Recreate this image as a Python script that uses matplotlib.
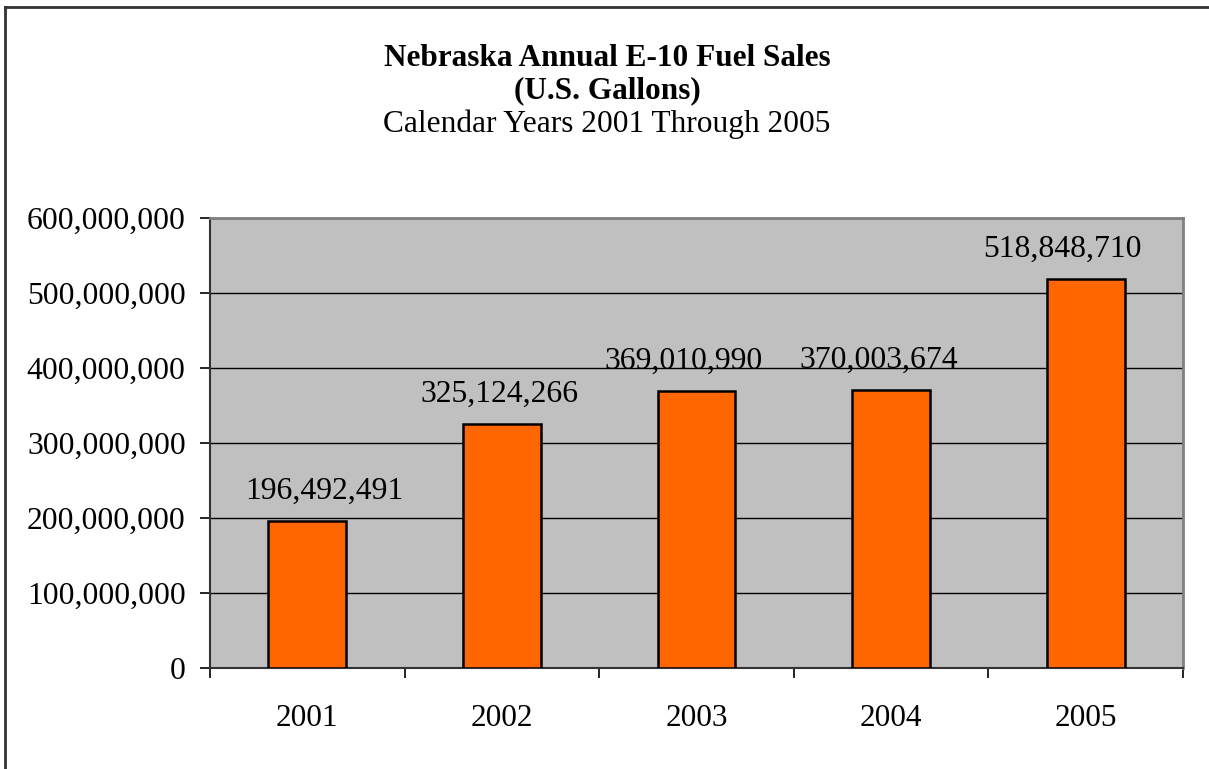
import matplotlib.pyplot as plt
from matplotlib.ticker import FuncFormatter, MultipleLocator
from matplotlib.lines import Line2D

# data
years = ['2001', '2002', '2003', '2004', '2005']
gallons = [196492491, 325124266, 369010990, 370003674, 518848710]

# value labels are nudged sideways in the original (points)
label_dx = [12, -2, -9, -9, -17]

plt.rcParams['font.family'] = ['Liberation Serif', 'DejaVu Serif']

W, H = 1209, 769
fig = plt.figure(figsize=(W / 100, H / 100), dpi=100)

# plot area in pixels: left 210, right 1183, top 218, bottom 668
ax = fig.add_axes([210 / W, 1 - 668 / H, (1183 - 210) / W, (668 - 218) / H])
ax.set_facecolor('#C0C0C0')

x = range(len(years))
ax.bar(x, gallons, width=0.4, color='#FF6600', edgecolor='black', linewidth=1.8, zorder=3)

for xi, v, dx in zip(x, gallons, label_dx):
    ax.annotate('{:,}'.format(v), (xi, v), xytext=(dx, 11), textcoords='offset points',
                ha='center', va='bottom', fontsize=22.8)

ax.set_xlim(-0.5, len(years) - 0.5)
ax.set_ylim(0, 600000000)
ax.yaxis.set_major_locator(MultipleLocator(100000000))
ax.yaxis.set_major_formatter(FuncFormatter(lambda v, p: '{:,.0f}'.format(v)))
ax.yaxis.grid(True, color='black', linewidth=1.0, zorder=1)
ax.set_axisbelow(True)

ax.set_xticks(list(x))
ax.set_xticklabels(years)
ax.set_xticks([i - 0.5 for i in range(len(years) + 1)], minor=True)
ax.tick_params(axis='x', which='major', length=0, pad=26, labelsize=22.5)
ax.tick_params(axis='x', which='minor', length=7.5, width=1.2, color='black', direction='out')
ax.tick_params(axis='y', length=7.5, width=1.2, color='black', direction='out', pad=10, labelsize=22.8)

for side in ['top', 'right']:
    ax.spines[side].set_color('#808080')
    ax.spines[side].set_linewidth(2)
for side in ['left', 'bottom']:
    ax.spines[side].set_color('#333333')
    ax.spines[side].set_linewidth(1.5)

fig.text(607 / W, 1 - 58 / H, 'Nebraska Annual E-10 Fuel Sales', ha='center', va='center',
         fontsize=22.5, fontweight='bold')
fig.text(607 / W, 1 - 91 / H, '(U.S. Gallons)', ha='center', va='center',
         fontsize=22.5, fontweight='bold')
fig.text(607 / W, 1 - 124 / H, 'Calendar Years 2001 Through 2005', ha='center', va='center',
         fontsize=22.6)

# outer chart border (only top and left edges show)
fig.add_artist(Line2D([5 / W, 5 / W], [0, 1 - 7 / H], transform=fig.transFigure,
                      color='#333333', linewidth=2))
fig.add_artist(Line2D([5 / W, 1], [1 - 7 / H, 1 - 7 / H], transform=fig.transFigure,
                      color='#333333', linewidth=2))

fig.savefig('out.png', dpi=100)
